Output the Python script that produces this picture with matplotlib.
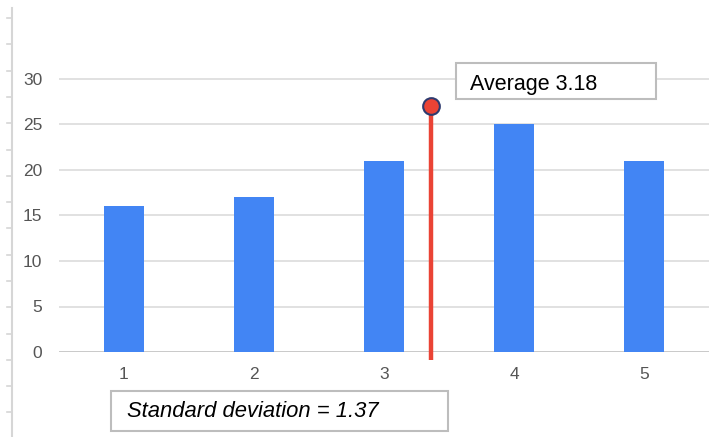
import matplotlib.pyplot as plt
from matplotlib.patches import Rectangle
from matplotlib.lines import Line2D
import numpy as np

plt.rcParams['font.family'] = ['Liberation Sans', 'DejaVu Sans']

categories = [1, 2, 3, 4, 5]
counts = [16, 17, 21, 25, 21]
avg_value = 3.18      # label value
avg_pos = 3.36        # where the marker line sits on the category axis
avg_top = 27
std_value = 1.37

W, H = 720, 437
fig = plt.figure(figsize=(W / 100, H / 100), dpi=100)

def fx(px):
    return px / W

def fy(py):
    return 1 - py / H

# axes placed to match the pixel layout
ax = fig.add_axes([fx(59), fy(352), fx(709) - fx(59), fy(51.7) - fy(352)])
ax.set_xlim(0.5, 5.5)
ax.set_ylim(0, 33)

ax.bar(categories, counts, width=0.31, color='#4285F4', zorder=3)

# average marker
ax.plot([avg_pos, avg_pos], [-0.9, avg_top], color='#EA4335', lw=3.2,
        solid_capstyle='butt', zorder=4, clip_on=False)
ax.plot([avg_pos], [avg_top], marker='o', ms=12, mfc='#EA4335', mec='#2E3A6E',
        mew=1.5, zorder=5, clip_on=False)

ax.set_yticks(range(0, 31, 5))
ax.set_xticks(categories)
ax.grid(axis='y', color='#d9d9d9', lw=1.1, zorder=0)
ax.axhline(0, color='#c8c8c8', lw=1.3, zorder=2)
for s in ax.spines.values():
    s.set_visible(False)
ax.tick_params(axis='y', length=0, pad=12, labelsize=12.5, labelcolor='#555555')
ax.tick_params(axis='x', length=0, pad=11, labelsize=12.5, labelcolor='#555555')

# spreadsheet-like ruler on the left edge
fig.add_artist(Line2D([fx(11.5), fx(11.5)], [fy(8), fy(437)], color='#d6d6d6', lw=1.5))
for py in np.arange(18, 437, 26.3):
    fig.add_artist(Line2D([fx(7), fx(11.5)], [fy(py), fy(py)], color='#d6d6d6', lw=1.2))

# annotation boxes
fig.add_artist(Rectangle((fx(456), fy(99)), fx(656) - fx(456), fy(63) - fy(99),
                         transform=fig.transFigure, facecolor='white',
                         edgecolor='#bdbdbd', lw=1.5, zorder=10))
fig.text(fx(470), fy(90), f'Average {avg_value:.2f}', fontsize=15.5,
         va='baseline', ha='left', color='black', zorder=11)

fig.add_artist(Rectangle((fx(111), fy(431)), fx(448) - fx(111), fy(391) - fy(431),
                         transform=fig.transFigure, facecolor='white',
                         edgecolor='#bdbdbd', lw=1.5, zorder=10))
fig.text(fx(127), fy(417), f'Standard deviation = {std_value:.2f}', fontsize=15.8,
         style='italic', va='baseline', ha='left', color='black', zorder=11)

fig.savefig('out.png', dpi=100)
